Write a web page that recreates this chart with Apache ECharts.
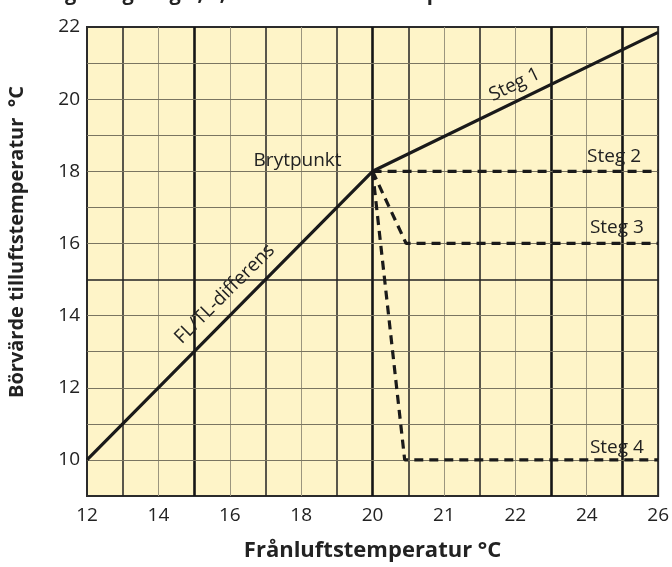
<!DOCTYPE html>
<html>
<head>
<meta charset="utf-8">
<script src="https://cdn.jsdelivr.net/npm/echarts@6/dist/echarts.min.js"></script>
<style>
  html, body { margin: 0; padding: 0; background: #fff; }
  #chart { width: 672px; height: 567px; }
</style>
</head>
<body>
<div id="chart"></div>
<script>
// x axis is not linear: ticks sit at equal steps, labelled like this
var xLabels = ['12', '14', '16', '18', '20', '21', '22', '24', '26'];
var yTicks = [10, 12, 14, 16, 18, 20, 22];

// curves, as [x step, temperature]
var steg1 = [[0, 10], [4, 18], [8, 21.85]];
var steg2 = [[4, 18], [8, 18]];
var steg3 = [[4, 18], [4.47, 16], [8, 16]];
var steg4 = [[4, 18], [4.45, 10], [8, 10]];

// annotation texts, in data space
var notes = [
    { text: 'Brytpunkt', at: [2.95, 18.3], align: 'center', rot: 0 },
    { text: 'Steg 1', at: [5.99, 20.4], align: 'center', rot: 25.7 },
    { text: 'Steg 2', at: [7.76, 18.42], align: 'right', rot: 0 },
    { text: 'Steg 3', at: [7.8, 16.45], align: 'right', rot: 0 },
    { text: 'Steg 4', at: [7.8, 10.34], align: 'right', rot: 0 },
    { text: 'FL/TL-differens', at: [1.93, 14.6], align: 'center', rot: 45 }
];

// grid line looks
var gray = { color: '#9b957e', width: 1, type: 'solid' };
var dark = { color: '#222', width: 1.5, type: 'solid' };
var thick = { color: '#151515', width: 2.6, type: 'solid' };
var hgray = { color: '#7a7561', width: 1.1, type: 'solid' };

var vLines = [
    [0.5, dark], [1, gray], [1.5, thick], [2, gray], [2.5, dark], [3, gray],
    [3.5, dark], [4, thick], [4.5, dark], [5, gray], [5.5, dark], [6, gray],
    [6.5, thick], [7, gray], [7.5, thick]
];
var hLines = [];
for (var v = 10; v <= 21; v++) {
    hLines.push([v, v === 15 ? dark : hgray]);
}

var font = 'Open Sans';
var myChart = echarts.init(document.getElementById('chart'));

function curve(data, dashed) {
    return {
        type: 'line',
        data: data,
        symbol: 'none',
        silent: true,
        z: 5,
        lineStyle: {
            color: '#1a1a1a',
            width: 3.2,
            type: dashed ? [9, 6] : 'solid',
            cap: 'butt'
        }
    };
}

var option = {
    animation: false,
    grid: {
        left: 87, right: 9, top: 27, bottom: 69,
        show: true,
        backgroundColor: '#fef4c8',
        borderColor: '#2b2b2b',
        borderWidth: 2
    },
    xAxis: {
        type: 'value',
        min: 0, max: 8, interval: 1,
        name: 'Frånluftstemperatur °C',
        nameLocation: 'middle',
        nameGap: 44,
        nameTextStyle: { fontFamily: font, fontSize: 22, fontWeight: 'bold', color: '#222' },
        axisLine: { show: false },
        axisTick: { show: false },
        splitLine: { show: false },
        axisLabel: {
            margin: 10,
            fontFamily: font, fontSize: 19, color: '#222',
            formatter: function (v) { return xLabels[v] || ''; }
        }
    },
    yAxis: {
        type: 'value',
        min: 9, max: 22, interval: 1,
        axisLine: { show: false },
        axisTick: { show: false },
        splitLine: { show: false },
        axisLabel: {
            margin: 7,
            fontFamily: font, fontSize: 19, color: '#222',
            formatter: function (v) { return yTicks.indexOf(v) >= 0 ? String(v) : ''; }
        }
    },
    series: [
        {
            type: 'line',
            data: [],
            silent: true,
            z: 1,
            markLine: {
                silent: true,
                animation: false,
                symbol: ['none', 'none'],
                label: { show: false },
                emphasis: { disabled: true },
                data: vLines.map(function (l) { return { xAxis: l[0], lineStyle: l[1] }; })
                    .concat(hLines.map(function (l) { return { yAxis: l[0], lineStyle: l[1] }; }))
            }
        },
        curve(steg1, false),
        curve(steg2, true),
        curve(steg3, true),
        curve(steg4, true)
    ]
};
myChart.setOption(option);

var texts = notes.map(function (n) {
    var p = myChart.convertToPixel({ gridIndex: 0 }, n.at);
    return {
        type: 'text',
        x: p[0], y: p[1],
        rotation: n.rot * Math.PI / 180,
        z: 10,
        style: {
            text: n.text,
            fontFamily: font, fontSize: 19, fill: '#222',
            align: n.align, verticalAlign: 'middle'
        }
    };
});
texts.push({
    type: 'text', x: 17, y: 242,
    rotation: Math.PI / 2,
    style: {
        text: 'Börvärde tilluftstemperatur  °C',
        fontFamily: font, fontSize: 20, fontWeight: 'bold', fill: '#222',
        align: 'center', verticalAlign: 'middle'
    }
});
texts.push({
    type: 'text', x: 40, y: 4,
    style: {
        text: 'Reglering steg 1, 2, 3 och 4 – tilluftstemperatur',
        fontFamily: font, fontSize: 20, fontWeight: 'bold', fill: '#222',
        align: 'left', verticalAlign: 'bottom'
    }
});
myChart.setOption({ graphic: texts });
</script>
</body>
</html>
